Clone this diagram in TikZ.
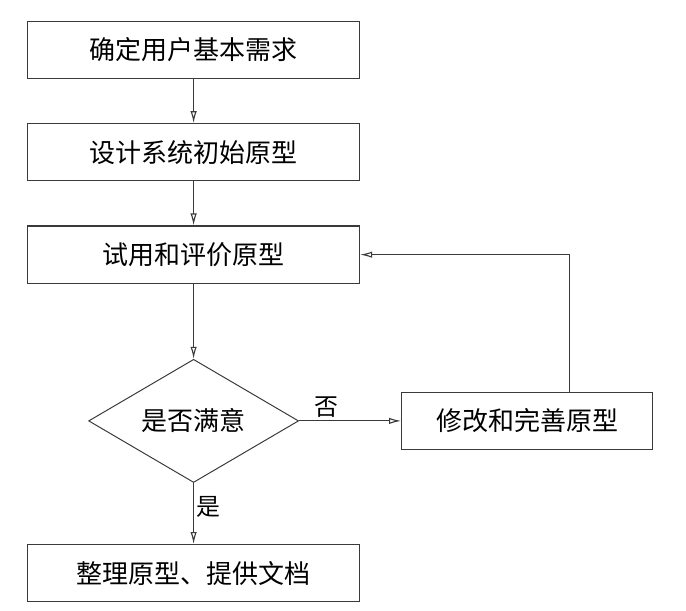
\documentclass[tikz,border=0pt]{standalone}
\usepackage{fontspec}
\newfontfamily\cjk{Noto Sans CJK SC}
\usepackage{xcolor}
\definecolor{lineg}{HTML}{3A3A3A}
\usetikzlibrary{positioning,arrows.meta,shapes.geometric}
\tikzset{
  pbox/.style ={rectangle, draw=lineg, fill=white, align=center, inner sep=2pt,
                minimum width=8.3cm, minimum height=1.43cm, line width=0.8pt,
                font=\cjk\fontsize{18.5}{21}\selectfont},
  qbox/.style ={pbox, minimum width=6.28cm},
  judge/.style={diamond, draw=lineg, fill=white, inner sep=0pt, aspect=1.7,
                minimum width=5.25cm, minimum height=3.08cm, line width=0.7pt,
                font=\cjk\fontsize{18.5}{21}\selectfont},
  arr/.style  ={-{Latex[open,length=3mm,width=1.6mm]}, draw=lineg, line width=0.8pt},
  el/.style   ={font=\cjk\fontsize{17}{19}\selectfont, inner sep=2pt},
}

\begin{document}
\begin{tikzpicture}[node distance=1.1cm]
  \useasboundingbox (-4.84,1.25) rectangle (12.31,-14.025);
  \node[pbox] (need) {确定用户基本需求};
  \node[pbox, below=of need] (init) {设计系统初始原型};
  \node[pbox, below=of init] (eval) {试用和评价原型};
  \node[judge, below=1.875cm of eval] (ok) {是否满意};
  \node[qbox, right=2.55cm of ok] (fix) {修改和完善原型};
  \node[pbox, below=1.525cm of ok] (doc) {整理原型、提供文档};
  \draw[arr] (need) -- (init);
  \draw[arr] (init) -- (eval);
  \draw[arr] (eval) -- (ok);
  \draw[arr] (ok) -- node[el,above,pos=0.27]{否} (fix);
  \draw[arr] (ok) -- node[el,right,pos=0.4]{是} (doc);
  \draw[arr] ([xshift=1.05cm]fix.north) |- (eval.east);
\end{tikzpicture}
\end{document}
